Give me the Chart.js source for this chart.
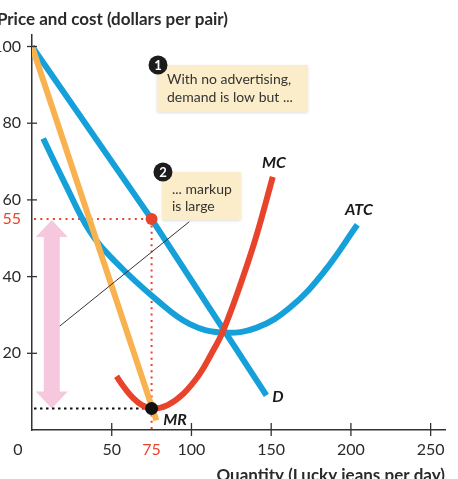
<!DOCTYPE html>
<html>
<head>
<meta charset="utf-8">
<title>Markup without advertising</title>
<script src="https://cdn.jsdelivr.net/npm/chart.js@4.4.1/dist/chart.umd.min.js"></script>
<style>
   html, body { margin: 0; padding: 0; background: #ffffff; overflow: hidden; }
   canvas { display: block; }
</style>
</head>
<body>
<canvas id="chart" width="458" height="479"></canvas>
<script>
// Demand (D) and marginal revenue (MR) — straight lines
const dQty = [0, 75, 147];
const dPrice = [100, 55, 9];
const mrQty = [0, 78];
const mrRevenue = [100, 2.5];

// Marginal cost (MC) and average total cost (ATC)
const mcQty = [53, 58, 63, 69, 76, 85, 95, 105, 112, 120, 132, 141, 151];
const mcCost = [14, 11, 8.5, 6.5, 5.6, 6.5, 9.5, 14.5, 19.5, 26, 39.5, 51, 66];
const atcQty = [7, 21, 36, 52, 78, 99, 120, 141, 162, 183, 204];
const atcCost = [76, 64, 52, 44, 34, 27.6, 25.4, 26.7, 32, 41.2, 53.5];

// Profit-maximizing output, price and marginal cost
const outputQty = 75;
const outputPrice = 55;
const outputMC = 5.6;

// Axis ticks
const xTicks = [50, 100, 150, 200, 250];
const yTicks = [20, 40, 60, 80, 100];
const xTickLabels = [0, 50, 75, 100, 150, 200, 250];
const yTickLabels = [20, 40, 55, 60, 80, 100];
const highlightTicks = [55, 75];

const BLUE = '#16a0da';
const ORANGE = '#f8b24f';
const RED = '#e8442b';
const PINK = '#f6c8de';
const BOX = '#fcedca';
const INK = '#2a2a2a';
const FONT = 'Lato, "Open Sans", sans-serif';

const toPoints = (xs, ys) => xs.map((x, i) => ({ x: x, y: ys[i] }));

function dottedLine(ctx, x1, y1, x2, y2, color, dash) {
   ctx.save();
   ctx.strokeStyle = color;
   ctx.lineWidth = 2;
   ctx.setLineDash(dash);
   ctx.beginPath();
   ctx.moveTo(x1, y1);
   ctx.lineTo(x2, y2);
   ctx.stroke();
   ctx.restore();
}

function callout(ctx, left, top, w, h, num, lines, lineYs) {
   ctx.save();
   ctx.shadowColor = 'rgba(0,0,0,0.18)';
   ctx.shadowBlur = 3;
   ctx.shadowOffsetY = 1;
   ctx.fillStyle = BOX;
   ctx.fillRect(left, top, w, h);
   ctx.restore();

   ctx.fillStyle = '#1c1c1c';
   ctx.beginPath();
   ctx.arc(left + 1, top, 9.5, 0, Math.PI * 2);
   ctx.fill();
   ctx.fillStyle = '#ffffff';
   ctx.font = 'bold 13px ' + FONT;
   ctx.textAlign = 'center';
   ctx.textBaseline = 'middle';
   ctx.fillText(num, left + 1, top + 1);

   ctx.fillStyle = '#333333';
   ctx.font = '14px ' + FONT;
   ctx.textAlign = 'left';
   lines.forEach((t, i) => ctx.fillText(t, left + 10, top + lineYs[i]));
}

// Everything that is not a curve: ticks, labels, guides, callouts
const overlay = {
   id: 'overlay',
   beforeDatasetsDraw(chart) {
      const ctx = chart.ctx;
      const xs = chart.scales.x;
      const ys = chart.scales.y;
      const qx = xs.getPixelForValue(outputQty);
      const py = ys.getPixelForValue(outputPrice);
      const cy = ys.getPixelForValue(outputMC);
      const x0 = xs.getPixelForValue(0);
      const y0 = ys.getPixelForValue(0);

      // pink double arrow showing the markup
      const ax = xs.getPixelForValue(12.4);
      ctx.save();
      ctx.fillStyle = PINK;
      ctx.beginPath();
      ctx.moveTo(ax, py + 1);
      ctx.lineTo(ax + 16, py + 18);
      ctx.lineTo(ax + 8, py + 18);
      ctx.lineTo(ax + 8, cy - 17);
      ctx.lineTo(ax + 16, cy - 17);
      ctx.lineTo(ax, cy);
      ctx.lineTo(ax - 16, cy - 17);
      ctx.lineTo(ax - 8, cy - 17);
      ctx.lineTo(ax - 8, py + 18);
      ctx.lineTo(ax - 16, py + 18);
      ctx.closePath();
      ctx.fill();
      ctx.restore();

      // dotted guides
      dottedLine(ctx, x0 + 2, py, qx, py, RED, [2, 4.3]);
      dottedLine(ctx, qx, py, qx, y0, RED, [2, 4.3]);
      dottedLine(ctx, x0 + 2, cy, qx, cy, '#111111', [2.5, 3.5]);
   },
   afterDatasetsDraw(chart) {
      const ctx = chart.ctx;
      const xs = chart.scales.x;
      const ys = chart.scales.y;
      const X = v => xs.getPixelForValue(v);
      const Y = v => ys.getPixelForValue(v);
      const x0 = X(0);
      const y0 = Y(0);

      // tick marks crossing the axes
      ctx.save();
      ctx.strokeStyle = '#333333';
      ctx.lineWidth = 1.3;
      xTicks.forEach(v => {
         ctx.beginPath();
         ctx.moveTo(X(v), y0 - 7);
         ctx.lineTo(X(v), y0 + 6);
         ctx.stroke();
      });
      yTicks.forEach(v => {
         ctx.beginPath();
         ctx.moveTo(x0 - 5, Y(v));
         ctx.lineTo(x0 + 5, Y(v));
         ctx.stroke();
      });
      ctx.restore();

      // tick labels
      ctx.font = '16px ' + FONT;
      ctx.textBaseline = 'middle';
      ctx.textAlign = 'right';
      yTickLabels.forEach(v => {
         ctx.fillStyle = highlightTicks.includes(v) ? RED : INK;
         ctx.fillText(String(v), 21, Y(v));
      });
      ctx.textAlign = 'center';
      xTickLabels.forEach(v => {
         ctx.fillStyle = highlightTicks.includes(v) ? RED : INK;
         const px = v === 0 ? x0 - 14 : X(v);
         ctx.fillText(String(v), px, 450);
      });

      // axis titles
      ctx.fillStyle = INK;
      ctx.font = 'bold 17px ' + FONT;
      ctx.textAlign = 'right';
      ctx.fillText('Price and cost (dollars per pair)', 228, 20);
      ctx.textBaseline = 'alphabetic';
      ctx.fillText('Quantity (Lucky jeans per day)', 445, 481);

      // thin leader from the arrow to callout 2
      ctx.save();
      ctx.strokeStyle = '#333333';
      ctx.lineWidth = 1;
      ctx.beginPath();
      ctx.moveTo(X(12.4) + 8, Y(27.1));
      ctx.lineTo(X(98.6), Y(54.3));
      ctx.stroke();
      ctx.restore();

      // points on D and MC
      ctx.fillStyle = RED;
      ctx.beginPath();
      ctx.arc(X(outputQty), Y(outputPrice), 6, 0, Math.PI * 2);
      ctx.fill();
      ctx.fillStyle = '#111111';
      ctx.beginPath();
      ctx.arc(X(outputQty), Y(outputMC), 6.5, 0, Math.PI * 2);
      ctx.fill();

      // curve labels
      ctx.fillStyle = '#1a1a1a';
      ctx.font = 'italic bold 16px ' + FONT;
      ctx.textAlign = 'center';
      ctx.textBaseline = 'middle';
      ctx.fillText('MC', X(151.7), Y(69.6));
      ctx.fillText('ATC', X(205), Y(57.4));
      ctx.fillText('D', X(154.2), Y(8.6));
      ctx.fillText('MR', X(89.7), Y(2.6));

      // callouts
      callout(ctx, X(78.4), Y(95.2), 151, 47, '1',
         ['With no advertising,', 'demand is low but ...'], [15, 33]);
      callout(ctx, X(81.5), Y(67.3), 79, 48, '2',
         ['... markup', 'is large'], [18, 35]);
   }
};

const curve = (label, xs, ys, color, order, smooth) => ({
   label: label,
   data: toPoints(xs, ys),
   showLine: true,
   borderColor: color,
   borderWidth: 6,
   borderCapStyle: 'butt',
   pointRadius: 0,
   fill: false,
   order: order,
   tension: smooth ? 0.4 : 0
});

new Chart(document.getElementById('chart'), {
   type: 'scatter',
   data: {
      datasets: [
         curve('MC', mcQty, mcCost, RED, 1, true),
         curve('MR', mrQty, mrRevenue, ORANGE, 2, false),
         curve('D', dQty, dPrice, BLUE, 3, false),
         curve('ATC', atcQty, atcCost, BLUE, 4, true)
      ]
   },
   options: {
      responsive: false,
      animation: false,
      devicePixelRatio: 1,
      layout: { padding: { top: 35, right: 13, left: 0, bottom: 0 } },
      plugins: {
         legend: { display: false },
         tooltip: { enabled: false }
      },
      scales: {
         x: {
            type: 'linear',
            min: 0,
            max: 259,
            grid: { display: false, drawTicks: false },
            border: { display: true, color: '#333333', width: 1.5 },
            ticks: { display: false },
            afterFit(scale) { scale.height = 49; }
         },
         y: {
            type: 'linear',
            min: 0,
            max: 103,
            grid: { display: false, drawTicks: false },
            border: { display: true, color: '#333333', width: 1.5 },
            ticks: { display: false },
            afterFit(scale) { scale.width = 32; }
         }
      }
   },
   plugins: [overlay]
});
</script>
</body>
</html>
